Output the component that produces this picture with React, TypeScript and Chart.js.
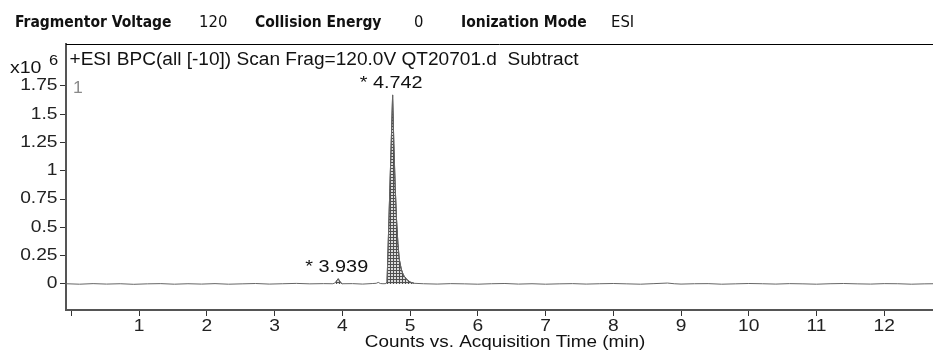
import React, { useEffect, useRef } from "react";
import { Chart, registerables } from "chart.js";

Chart.register(...registerables);

// ---- Data (intensity in counts x10^6, time in minutes) ----
const TIME_MIN = [
  -0.08, 0.12, 0.32, 0.52, 0.72, 0.92, 1.12, 1.32, 1.52, 1.72, 1.92, 2.12, 2.32, 2.52, 2.72, 2.92,
  3.12, 3.32, 3.52, 3.72, 3.86, 3.9, 3.92, 3.939, 3.955, 3.98, 4.0, 4.15, 4.3, 4.45, 4.5, 4.53,
  4.56, 4.6, 4.64, 4.66, 4.68, 4.7, 4.72, 4.742, 4.76, 4.78, 4.8, 4.82, 4.84, 4.87, 4.9, 4.95,
  5.0, 5.06, 5.2, 5.4, 5.6, 5.8, 6.0, 6.2, 6.4, 6.6, 6.8, 7.0, 7.2, 7.4, 7.6, 7.8, 8.0, 8.2,
  8.4, 8.6, 8.8, 8.9, 9.0, 9.2, 9.4, 9.6, 9.8, 10.0, 10.2, 10.4, 10.6, 10.8, 11.0, 11.2, 11.4,
  11.6, 11.8, 12.0, 12.2, 12.4, 12.6, 12.72,
];
const BPC_COUNTS = [
  0.002, -0.002, 0.003, -0.001, 0.002, -0.003, 0.001, 0.003, -0.002, 0.002, -0.001, 0.003, -0.002, 0.001, 0.004, -0.001,
  0.002, 0.005, 0.001, 0.003, 0.002, 0.012, 0.032, 0.046, 0.03, 0.008, 0.002, 0.003, -0.001, 0.004, 0.006, 0.014,
  0.004, 0.002, 0.003, 0.02, 0.42, 0.82, 1.22, 1.67, 1.24, 0.86, 0.57, 0.36, 0.22, 0.13, 0.08, 0.04,
  0.017, 0.006, 0.002, -0.001, 0.003, 0.001, -0.002, 0.002, 0.004, -0.001, 0.002, -0.002, 0.001, 0.003, -0.001, 0.002, 0.004, 0.001,
  -0.002, 0.003, 0.008, 0.002, -0.001, 0.002, 0.003, -0.002, 0.001, 0.004, 0.002, -0.001, 0.003, 0.001, -0.002, 0.002, 0.004,
  0.001, -0.001, 0.003, 0.002, -0.002, 0.001, 0.002,
];
const FILL_START = [3.88, 4.64];
const FILL_END = [4.0, 5.06];
const PEAK_TIMES = [3.939, 4.742];
const PEAK_LABELS = ["* 3.939", "* 4.742"];
const X_TICKS = [0, 1, 2, 3, 4, 5, 6, 7, 8, 9, 10, 11, 12];
const X_TICK_LABELS = ["", "1", "2", "3", "4", "5", "6", "7", "8", "9", "10", "11", "12"];
const Y_TICKS = [0, 0.25, 0.5, 0.75, 1, 1.25, 1.5, 1.75];
const Y_TICK_LABELS = ["0", "0.25", "0.5", "0.75", "1", "1.25", "1.5", "1.75"];
const HEADER_LABELS = ["Fragmentor Voltage", "Collision Energy", "Ionization Mode"];
const HEADER_VALUES = ["120", "0", "ESI"];
const TRACE_TITLE = "+ESI BPC(all [-10]) Scan Frag=120.0V QT20701.d  Subtract";
const X_TITLE = "Counts vs. Acquisition Time (min)";
const Y_MULTIPLIER = "x10";
const Y_EXPONENT = "6";
const PLOT_NUMBER = "1";

const SANS = "'Liberation Sans', Arial, sans-serif";
const HEAD_FONT = "'DejaVu Sans Condensed', 'DejaVu Sans', sans-serif";

function makePattern(): CanvasPattern | string {
  const c = document.createElement("canvas");
  c.width = 3;
  c.height = 3;
  const g = c.getContext("2d");
  if (!g) return "#999";
  g.fillStyle = "#dcdcdc";
  g.fillRect(0, 0, 3, 3);
  g.fillStyle = "#505050";
  g.fillRect(0, 0, 3, 1);
  g.fillRect(0, 0, 1, 3);
  const p = g.createPattern(c, "repeat");
  return p || "#999";
}

// draw text with a horizontal stretch factor (the reference text is widened)
function stretchText(
  ctx: CanvasRenderingContext2D,
  text: string,
  x: number,
  y: number,
  size: number,
  sx: number,
  align: CanvasTextAlign,
  color: string,
) {
  ctx.save();
  ctx.font = `${size}px ${SANS}`;
  ctx.fillStyle = color;
  ctx.textAlign = align;
  ctx.textBaseline = "middle";
  ctx.translate(x, y);
  ctx.scale(sx, 1);
  ctx.fillText(text, 0, 0);
  ctx.restore();
}

const decorPlugin = {
  id: "decor",
  afterDraw(chart: any) {
    const ctx = chart.ctx as CanvasRenderingContext2D;
    const { left, right, top, bottom } = chart.chartArea;
    const xs = chart.scales.x;
    const ys = chart.scales.y;
    ctx.save();
    // top frame line
    ctx.strokeStyle = "#000";
    ctx.lineWidth = 1;
    ctx.beginPath();
    ctx.moveTo(left, top + 0.5);
    ctx.lineTo(right, top + 0.5);
    ctx.stroke();

    // header
    const labelX = [15, 255, 461];
    const valueX = [199, 414, 611];
    ctx.textBaseline = "middle";
    ctx.textAlign = "left";
    ctx.fillStyle = "#111";
    HEADER_LABELS.forEach((t, i) => {
      ctx.font = `bold 15.5px ${HEAD_FONT}`;
      ctx.fillText(t, labelX[i], 23);
      ctx.font = `16.5px ${HEAD_FONT}`;
      ctx.fillText(HEADER_VALUES[i], valueX[i], 23);
    });
    ctx.restore();

    // trace title
    stretchText(ctx, TRACE_TITLE, left + 3.5, 60.5, 18, 1.06, "left", "#111");

    // y multiplier
    stretchText(ctx, Y_MULTIPLIER, 10, 69, 16, 1.22, "left", "#111");
    stretchText(ctx, Y_EXPONENT, 49, 61, 15, 1.1, "left", "#111");

    // plot number
    stretchText(ctx, PLOT_NUMBER, left + 7, ys.getPixelForValue(1.75) + 2.5, 16, 1.1, "left", "#8a8a8a");

    // tick labels
    X_TICKS.forEach((v, i) => {
      if (!X_TICK_LABELS[i]) return;
      stretchText(ctx, X_TICK_LABELS[i], xs.getPixelForValue(v), bottom + 16.5, 16, 1.2, "center", "#222");
    });
    Y_TICKS.forEach((v, i) => {
      stretchText(ctx, Y_TICK_LABELS[i], left - 8.5, ys.getPixelForValue(v), 16, 1.2, "right", "#222");
    });

    // peak labels
    PEAK_TIMES.forEach((t, i) => {
      const idx = TIME_MIN.indexOf(t);
      const v = idx >= 0 ? BPC_COUNTS[idx] : 0;
      stretchText(ctx, PEAK_LABELS[i], xs.getPixelForValue(t) - 1.5, ys.getPixelForValue(v) - 11, 16, 1.24, "center", "#111");
    });

    // x title
    stretchText(ctx, X_TITLE, 505, 342.5, 16, 1.18, "center", "#111");
  },
};

export default function App() {
  const ref = useRef<HTMLCanvasElement | null>(null);
  useEffect(() => {
    if (!ref.current) return;
    const pattern = makePattern();
    const trace = TIME_MIN.map((t, i) => ({ x: t, y: BPC_COUNTS[i] }));
    const peakSets = FILL_START.map((s, k) => ({
      data: trace.filter((p) => p.x >= s && p.x <= FILL_END[k]),
      borderColor: "#333",
      borderWidth: 1,
      backgroundColor: pattern,
      fill: "origin",
      pointRadius: 0,
      tension: 0,
    }));
    const chart = new Chart(ref.current, {
      type: "line",
      data: {
        datasets: [
          {
            data: trace,
            borderColor: "#666",
            borderWidth: 1,
            fill: false,
            pointRadius: 0,
            tension: 0,
          },
          ...peakSets,
        ] as any,
      },
      options: {
        animation: false,
        responsive: false,
        maintainAspectRatio: false,
        layout: { padding: { top: 44, left: 0, right: 0, bottom: 0 } },
        plugins: { legend: { display: false }, tooltip: { enabled: false } },
        scales: {
          x: {
            type: "linear",
            min: -0.08,
            max: 12.72,
            afterBuildTicks: (s: any) => {
              s.ticks = X_TICKS.map((v) => ({ value: v }));
            },
            afterFit: (s: any) => {
              s.height = 42;
            },
            ticks: { display: false, autoSkip: false },
            grid: { drawOnChartArea: false, drawTicks: true, tickLength: 6, tickColor: "#333", tickWidth: 1 },
            border: { display: true, color: "#555", width: 2 },
          },
          y: {
            type: "linear",
            min: -0.23,
            max: 2.12,
            afterBuildTicks: (s: any) => {
              s.ticks = Y_TICKS.map((v) => ({ value: v }));
            },
            afterFit: (s: any) => {
              s.width = 66;
            },
            ticks: { display: false, autoSkip: false },
            grid: { drawOnChartArea: false, drawTicks: true, tickLength: 6, tickColor: "#333", tickWidth: 1 },
            border: { display: true, color: "#555", width: 2 },
          },
        },
      },
      plugins: [decorPlugin],
    });
    return () => chart.destroy();
  }, []);
  return (
    <div style={{ position: "fixed", left: 0, top: 0, width: 933, height: 352, background: "#fff" }}>
      <canvas ref={ref} width={933} height={352} style={{ display: "block", width: 933, height: 352 }} />
    </div>
  );
}
